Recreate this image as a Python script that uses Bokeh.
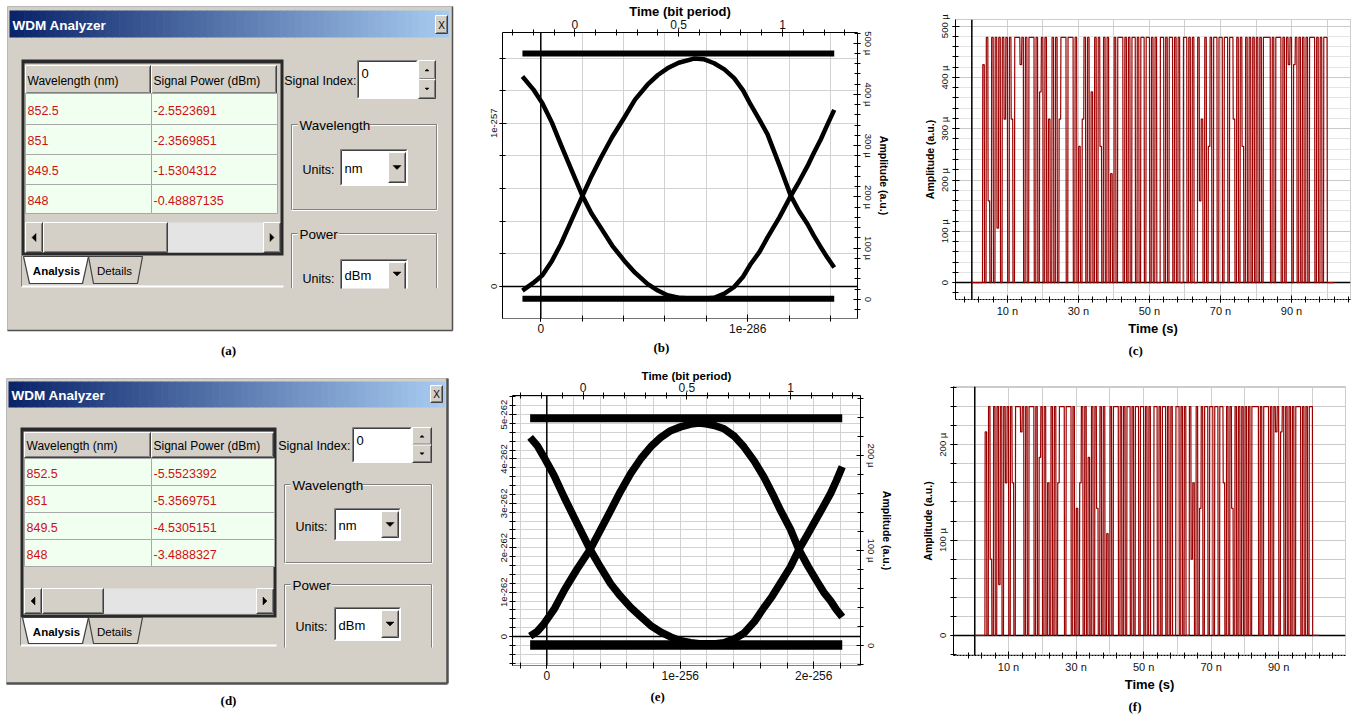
import math
from bokeh.plotting import figure
from bokeh.models import (Range1d, LinearAxis, FixedTicker, Grid, Span, Title,
                          CustomJSTickFormatter)
from bokeh.layouts import row, column
from bokeh.core.properties import value
from bokeh.embed import file_html
from bokeh.resources import INLINE

# ---------------------------------------------------------------- data
wavelengths_nm = [852.5, 851, 849.5, 848]
signal_power_a_dbm = [-2.5523691, -2.3569851, -1.5304312, -0.48887135]
signal_power_d_dbm = [-5.5523392, -5.3569751, -4.5305151, -3.4888327]
table_headers = ["Wavelength (nm)", "Signal Power (dBm)"]
signal_index = 0
wavelength_unit = "nm"
power_unit = "dBm"

# eye diagram (b): time in bit periods, amplitude in micro a.u.
eye_b_t = [-0.252, -0.2, -0.156, -0.11, -0.067, -0.015, 0.037, 0.08, 0.125, 0.18, 0.237,
           0.29, 0.35, 0.4, 0.446, 0.5, 0.574, 0.62, 0.671, 0.72, 0.767, 0.81, 0.847,
           0.89, 0.928, 0.985, 1.04, 1.08, 1.12, 1.15, 1.184, 1.215, 1.249]
eye_b_arch = [17, 32, 47, 75, 108, 155, 202, 240, 276, 317, 354,
              390, 419, 438, 451, 462, 470, 469, 461, 449, 432, 408, 380,
              350, 322, 262, 202, 172, 147, 125, 102, 82, 62]
eye_b_u = [435, 410, 383, 345, 302, 252, 202, 168, 140, 105, 76,
           52, 30, 17, 8, 3, 1, 1, 3, 11, 24, 44, 69,
           93, 121, 160, 202, 230, 260, 285, 312, 340, 370]
eye_b_rail_t = [-0.252, 1.249]
eye_b_high = 480
eye_b_low = 1

# eye diagram (e)
eye_e_t = [-0.255, -0.22, -0.188, -0.14, -0.091, -0.03, 0.034, 0.085, 0.133, 0.18, 0.23,
           0.28, 0.326, 0.375, 0.422, 0.47, 0.519, 0.56, 0.599, 0.64, 0.679, 0.73, 0.775,
           0.825, 0.872, 0.912, 0.952, 1.0, 1.04, 1.085, 1.129, 1.16, 1.193, 1.22, 1.249]
eye_e_arch = [10, 15, 23, 38, 58, 80, 101, 122, 142, 162, 181,
              197, 209, 219, 226, 230, 233, 234, 233, 231, 228, 220, 209,
              194, 177, 160, 142, 122, 101, 83, 67, 56, 47, 38, 30]
eye_e_u = [219, 210, 198, 179, 156, 129, 101, 82, 65, 52, 40,
           30, 21, 14, 9, 5, 3, 2, 2, 2, 3, 7, 13,
           25, 40, 52, 66, 83, 101, 118, 135, 147, 160, 173, 188]
eye_e_rail_t = [-0.255, 1.249]
eye_e_high = 239
eye_e_low = 0.5

# time traces (c) and (f): one level digit per bit (9 = full level)
bits_start_ns = 3.0
bit_period_ns = 0.5
bit_levels = ("80930909290969096099"
              "98909099909079090609"
              "09069990999090506909"
              "07090950909040909990"
              "90909909099099090900"
              "99090990909009909090"
              "09360905909909909909"
              "96090950909090909099"
              "99090999090989089090"
              "90909990909099")
trace_end_ns = 102.0
full_level_c = 478
full_level_f = 240
time_ticks_ns = [10, 30, 50, 70, 90]

# ---------------------------------------------------------------- styles
WIN = "#D4D0C8"
SHADOW = "#808080"
DARKER = "#404040"
ROWBG = "#F0FFF0"
VALRED = "#D01010"
TRACE_RED = "#990000"
GRID_C = "#D2D2D2"
SANS = "Liberation Sans"
SERIF = "Liberation Serif"


def base_fig(w, h, xr, yr, mb):
    p = figure(width=w, height=h, x_range=Range1d(*xr), y_range=Range1d(*yr),
               x_axis_location=None, y_axis_location=None, title=None,
               toolbar_location=None, output_backend="svg",
               min_border_left=mb[0], min_border_right=mb[1],
               min_border_top=mb[2], min_border_bottom=mb[3])
    p.frame_align = False
    p.background_fill_color = "white"
    p.border_fill_color = "white"
    p.xgrid.visible = False
    p.ygrid.visible = False
    return p


# ---------------------------------------------------------------- WDM windows
def quad(p, x0, y0, x1, y1, fill, line=None, lw=1):
    p.quad(left=[x0], right=[x1], top=[y0], bottom=[y1], fill_color=fill,
           line_color=line, line_width=lw)


def seg(p, pts, color, lw=1):
    p.segment(x0=[a[0] for a in pts], y0=[a[1] for a in pts],
              x1=[a[2] for a in pts], y1=[a[3] for a in pts],
              line_color=color, line_width=lw)


def raised(p, x0, y0, x1, y1, fill=WIN):
    quad(p, x0, y0, x1, y1, fill)
    seg(p, [(x0, y0, x1, y0), (x0, y0, x0, y1)], "white")
    seg(p, [(x0, y1, x1, y1), (x1, y0, x1, y1)], DARKER)
    seg(p, [(x0 + 1, y1 - 1, x1 - 1, y1 - 1), (x1 - 1, y0 + 1, x1 - 1, y1 - 1)], SHADOW)


def sunken(p, x0, y0, x1, y1, fill="white"):
    quad(p, x0, y0, x1, y1, fill)
    seg(p, [(x0, y0, x1, y0), (x0, y0, x0, y1)], SHADOW)
    seg(p, [(x0 + 1, y0 + 1, x1 - 1, y0 + 1), (x0 + 1, y0 + 1, x0 + 1, y1 - 1)], DARKER)
    seg(p, [(x0, y1, x1, y1), (x1, y0, x1, y1)], "white")


def txt(p, x, y, s, size, color="black", bold=False, align="left", font=SANS):
    p.text(x=[x], y=[y], text=[s], text_font=value(font), text_font_size=f"{size}px",
           text_color=color, text_font_style="bold" if bold else "normal",
           text_align=align, text_baseline="middle")


def tri(p, cx, cy, s, d):
    if d == "down":
        xs, ys = [cx - s, cx + s, cx], [cy - s / 2, cy - s / 2, cy + s / 2]
    elif d == "up":
        xs, ys = [cx - s, cx + s, cx], [cy + s / 2, cy + s / 2, cy - s / 2]
    elif d == "left":
        xs, ys = [cx + s / 2, cx + s / 2, cx - s / 2], [cy - s, cy + s, cy]
    else:
        xs, ys = [cx - s / 2, cx - s / 2, cx + s / 2], [cy - s, cy + s, cy]
    p.patch(xs, ys, fill_color="black", line_color="black", line_width=0.5)


def etched(p, x0, y0, x1, y1, open_bottom=False):
    dark = [(x0, y0, x1, y0), (x0, y0, x0, y1), (x1, y0, x1, y1)]
    light = [(x0 + 1, y0 + 1, x1 - 1, y0 + 1), (x0 + 1, y0 + 1, x0 + 1, y1), (x1 + 1, y0, x1 + 1, y1)]
    if not open_bottom:
        dark.append((x0, y1, x1, y1))
        light.append((x0, y1 + 1, x1 + 1, y1 + 1))
    seg(p, dark, SHADOW)
    seg(p, light, "white")


def mix(c1, c2, f):
    return "#%02x%02x%02x" % tuple(int(round(a + (b - a) * f)) for a, b in zip(c1, c2))


def make_wdm(G, powers, caption, h):
    p = base_fig(470, h, (0, 470), (h, 0), (0, 0, 0, 0))
    p.outline_line_color = None
    x0, y0, x1, y1 = G["win"]
    quad(p, x0, y0, x1, y1, WIN, "#B8B8B8")
    seg(p, [(x1, y0, x1, y1), (x0, y1, x1, y1)], "#505050", G["edge"])
    # title bar
    bx0, by0, bx1, by1 = G["bar"]
    n = 60
    lefts = [bx0 + (bx1 - bx0) * i / n for i in range(n)]
    rights = [bx0 + (bx1 - bx0) * (i + 1) / n + 0.6 for i in range(n)]
    cols = [mix((10, 36, 106), (166, 202, 240), i / (n - 1)) for i in range(n)]
    p.quad(left=lefts, right=rights, top=[by0] * n, bottom=[by1] * n,
           fill_color=cols, line_color=None)
    txt(p, bx0 + 3, (by0 + by1) / 2 + 1, "WDM Analyzer", 13.5, "white", True)
    cx0, cy0, cx1, cy1 = G["close"]
    raised(p, cx0, cy0, cx1, cy1)
    txt(p, (cx0 + cx1) / 2, (cy0 + cy1) / 2 + 0.5, "X", 10, "black", False, "center")
    # table
    tx0, ty0, tx1, ty1 = G["tbl"]
    quad(p, tx0, ty0, tx1, ty1, "#2A2A2A")
    quad(p, tx0 + 3, ty0 + 4, tx1 - 3, ty1 - 3, WIN)
    cx = G["colx"]
    hy0, hy1 = G["hdr"]
    for i in range(2):
        raised(p, cx[i], hy0, cx[i + 1] - 1, hy1)
        txt(p, cx[i] + 2, (hy0 + hy1) / 2 + 1, table_headers[i], 12)
    rows_y = G["rows"]
    nr = len(wavelengths_nm)
    p.quad(left=[cx[0]] * nr + [cx[1]] * nr, right=[cx[1]] * nr + [cx[2]] * nr,
           top=rows_y[:-1] * 2, bottom=rows_y[1:] * 2,
           fill_color=ROWBG, line_color="#A8A8A8")
    ymid = [(rows_y[i] + rows_y[i + 1]) / 2 + 1 for i in range(nr)]
    p.text(x=[cx[0] + 2] * nr, y=ymid, text=[f"{w:g}" for w in wavelengths_nm],
           text_font=value(SANS), text_font_size="12.5px", text_color=VALRED,
           text_baseline="middle")
    p.text(x=[cx[1] + 2] * nr, y=ymid, text=[repr(v) for v in powers],
           text_font=value(SANS), text_font_size="12.5px", text_color=VALRED,
           text_baseline="middle")
    # scrollbar
    sx0, sy0, sx1, sy1 = G["scroll"]
    quad(p, sx0, sy0, sx1, sy1, "#E4E4E4")
    raised(p, sx0, sy0, sx0 + 17, sy1)
    tri(p, sx0 + 8.5, (sy0 + sy1) / 2, 4, "left")
    raised(p, sx1 - 17, sy0, sx1, sy1)
    tri(p, sx1 - 8.5, (sy0 + sy1) / 2, 4, "right")
    th0, th1 = G["thumb"]
    raised(p, th0, sy0, th1, sy1)
    # tabs
    ay0, ay1 = G["tabs"]
    p.patch([tx0 + 2, tx0 + 8, 82, 88], [ay0, ay1, ay1, ay0], fill_color="white",
            line_color=DARKER, line_width=1.2)
    p.patch([88, 93, 137, 142], [ay0, ay1, ay1, ay0], fill_color=WIN,
            line_color=DARKER, line_width=1.2)
    txt(p, 56, (ay0 + ay1) / 2 + 1, "Analysis", 11.5, "black", True, "center")
    txt(p, 114, (ay0 + ay1) / 2 + 1, "Details", 11.5, "black", False, "center")
    gl = G["grp"]
    seg(p, [(tx0, gl, tx1, gl)], "white", 2)
    seg(p, [(tx0, ty1, tx0, gl)], SHADOW, 1)
    # signal index
    sgx, sgy = G["sig"]
    txt(p, sgx, sgy, "Signal Index:", 12.5, align="right")
    ix0, iy0, ix1, iy1 = G["inp"]
    sunken(p, ix0, iy0, ix1, iy1)
    txt(p, ix0 + 4, iy0 + 13, str(signal_index), 13)
    spx0, spy0, spx1, spy1 = G["spin"]
    mid = (spy0 + spy1) / 2
    raised(p, spx0, spy0, spx1, mid)
    raised(p, spx0, mid, spx1, spy1)
    tri(p, (spx0 + spx1) / 2, (spy0 + mid) / 2, 2, "up")
    tri(p, (spx0 + spx1) / 2, (mid + spy1) / 2, 2, "down")
    # group boxes
    for key, label, unit, lblw in (("wl", "Wavelength", wavelength_unit, 70),
                                    ("pw", "Power", power_unit, 39)):
        gx0, gy0, gx1, gy1 = G[key + "_box"]
        etched(p, gx0, gy0, gx1, gy1, G[key + "_open"])
        quad(p, gx0 + 6, gy0 - 9, gx0 + 8 + lblw, gy0 + 9, WIN)
        txt(p, gx0 + 8, gy0 + 1, label, 13.5)
        txt(p, gx0 + 11, G[key + "_uy"] + 1, "Units:", 12.5)
        dx0, dy0, dx1, dy1 = G[key + "_dd"]
        sunken(p, dx0, dy0, dx1, dy1)
        ym = (dy0 + min(dy1, G[key + "_clip"])) / 2
        txt(p, dx0 + 4, ym + 1, unit, 13)
        raised(p, dx1 - 19, dy0 + 3, dx1 - 2, dy1 - 3)
        tri(p, dx1 - 10.5, ym, 4, "down")
        if G[key + "_open"]:
            quad(p, gx0 - 2, G[key + "_clip"], gx1 + 3, G[key + "_clip"] + 30, WIN)
    txt(p, G["cap"][0], G["cap"][1], caption, 13, "black", True, "center", SERIF)
    return p


G_a = dict(win=(7, 6, 452, 330), edge=1.5, bar=(9, 10, 448, 37), close=(435, 15, 447, 33),
           tbl=(21, 59, 283, 255), hdr=(65, 93), colx=(25, 151, 277),
           rows=[93, 124, 154, 184, 213], scroll=(25, 222, 280, 252), thumb=(43, 167),
           tabs=(256, 283), grp=286, sig=(356, 80), inp=(357, 60, 417, 98),
           spin=(418, 60, 435, 98),
           wl_box=(291, 124, 436, 209), wl_open=False, wl_uy=168, wl_dd=(340, 149, 407, 185), wl_clip=999,
           pw_box=(291, 233, 436, 288), pw_open=True, pw_uy=277, pw_dd=(340, 259, 407, 296), pw_clip=288,
           cap=(228, 350))

G_d = dict(win=(6, 18, 447, 323), edge=2.5, bar=(8, 21, 444, 47), close=(430, 25, 442, 42),
           tbl=(20, 67, 276, 257), hdr=(72, 97), colx=(24, 151, 274),
           rows=[98, 125, 152, 179, 206], scroll=(24, 228, 273, 253), thumb=(42, 103),
           tabs=(257, 283), grp=285, sig=(350, 85), inp=(352, 67, 411, 102),
           spin=(412, 67, 431, 102),
           wl_box=(284, 124, 431, 202), wl_open=False, wl_uy=165, wl_dd=(334, 148, 400, 180), wl_clip=999,
           pw_box=(284, 224, 431, 287), pw_open=True, pw_uy=265, pw_dd=(334, 247, 400, 280), pw_clip=999,
           cap=(228, 340))


# ---------------------------------------------------------------- axes helpers
def label_formatter(vals, labels):
    return CustomJSTickFormatter(args=dict(vals=vals, labels=labels), code="""
for (let i = 0; i < vals.length; i++) {
  if (Math.abs(vals[i] - tick) < 1e-6) { return labels[i]; }
}
return "";
""")


def micro():
    return CustomJSTickFormatter(code=r"""
return (Math.abs(tick) < 1e-9) ? "0" : Math.round(tick) + " \u00b5";
""")


def nano():
    return CustomJSTickFormatter(code=r"""return Math.round(tick) + " n";""")


def style_axis(ax, lsize, tsize):
    ax.major_label_text_font = SANS
    ax.major_label_text_font_size = lsize
    ax.major_label_text_color = "#111111"
    ax.axis_label_text_font = SANS
    ax.axis_label_text_font_style = "bold"
    ax.axis_label_text_font_size = tsize
    ax.axis_label_text_color = "black"
    ax.axis_line_color = "black"
    ax.major_tick_line_color = "black"
    ax.minor_tick_line_color = "black"
    ax.major_tick_in = 4
    ax.major_tick_out = 3
    ax.minor_tick_in = 3
    ax.minor_tick_out = 3
    ax.major_label_standoff = 2
    ax.axis_label_standoff = 1


def steps(a, b, s):
    n = int(round((b - a) / s))
    return [round(a + i * s, 6) for i in range(n + 1)]


def caption_title(p, text, offset, standoff):
    p.add_layout(Title(text=text, align="left", offset=offset, standoff=standoff,
                       text_font=SERIF, text_font_style="bold", text_font_size="13px",
                       text_color="black"), "below")


def make_eye(c):
    p = base_fig(c["w"], c["h"], c["xr"], c["yr"], c["mb"])
    p.extra_x_ranges = {"bot": Range1d(*c["bot_r"])}
    p.extra_y_ranges = {"lft": Range1d(*c["left_r"])}
    p.outline_line_color = None
    p.add_layout(Grid(dimension=0, x_range_name="bot", ticker=FixedTicker(ticks=c["bot_grid"]),
                      grid_line_color=GRID_C))
    p.add_layout(Grid(dimension=1, y_range_name="lft", ticker=FixedTicker(ticks=c["left_grid"]),
                      grid_line_color=GRID_C))
    p.add_layout(Span(location=0, dimension="height", x_range_name="bot", line_color="black",
                      line_width=1.5, level="underlay"))
    p.add_layout(Span(location=0, dimension="width", y_range_name="lft", line_color="black",
                      line_width=1.5, level="underlay"))

    top = LinearAxis(ticker=FixedTicker(ticks=[0, 0.5, 1], minor_ticks=steps(-0.3, 1.3, 0.1)),
                     axis_label="Time (bit period)")
    style_axis(top, c["hl"], c["ht"])
    top.major_label_standoff = 1
    top.axis_label_standoff = -2
    p.add_layout(top, "above")

    right = LinearAxis(ticker=FixedTicker(ticks=c["right_ticks"], minor_ticks=c["right_minor"]),
                       formatter=micro(), axis_label="Amplitude (a.u.)")
    style_axis(right, c["vl"], c["vt"])
    right.major_label_orientation = "vertical"
    right.axis_label_orientation = "vertical"
    p.add_layout(right, "right")

    left = LinearAxis(y_range_name="lft",
                      ticker=FixedTicker(ticks=c["left_vals"], minor_ticks=c["left_grid"]),
                      formatter=label_formatter(c["left_vals"], c["left_labels"]))
    style_axis(left, c["vl"], c["vt"])
    left.major_label_orientation = "vertical"
    p.add_layout(left, "left")

    bot = LinearAxis(x_range_name="bot",
                     ticker=FixedTicker(ticks=c["bot_vals"], minor_ticks=c["bot_grid"]),
                     formatter=label_formatter(c["bot_vals"], c["bot_labels"]))
    style_axis(bot, c["hl"], c["ht"])
    bot.axis_line_dash = "1 1"
    p.add_layout(bot, "below")

    p.line(c["t"], c["arch"], line_color="black", line_width=c["lw"], line_join="round")
    p.line(c["t"], c["u"], line_color="black", line_width=c["lw"], line_join="round")
    p.line(c["rail_t"], [c["high"]] * 2, line_color="black", line_width=c["rw"][0])
    p.line(c["rail_t"], [c["low"]] * 2, line_color="black", line_width=c["rw"][1])
    caption_title(p, c["caption"], c["cap"][0], c["cap"][1])
    return p


def waveform(full):
    t = [0.0, bits_start_ns]
    a = [0.0, 0.0]
    for i, ch in enumerate(bit_levels):
        t0 = bits_start_ns + i * bit_period_ns
        lv = int(ch) / 9 * full
        t += [t0 + 0.08, t0 + bit_period_ns]
        a += [lv, lv]
    tend = bits_start_ns + len(bit_levels) * bit_period_ns
    t += [tend + 0.08, trace_end_ns]
    a += [0.0, 0.0]
    return t, a


def make_trace(c):
    p = base_fig(c["w"], c["h"], c["xr"], c["yr"], c["mb"])
    p.outline_line_color = "#9A9A9A"
    p.outline_line_dash = "1 1"
    p.add_layout(Grid(dimension=0, ticker=FixedTicker(ticks=steps(0, 100, 10)),
                      grid_line_color="#CFCFCF"))
    p.add_layout(Grid(dimension=1, ticker=FixedTicker(ticks=c["ygrid"], minor_ticks=c["yminor"]),
                      grid_line_color="#CACACA", minor_grid_line_color="#E4E4E4"))
    p.add_layout(Span(location=0, dimension="height", line_color="black", line_width=1.5,
                      level="underlay"))
    p.add_layout(Span(location=0, dimension="width", line_color="black", line_width=1.5,
                      level="underlay"))
    xa = LinearAxis(ticker=FixedTicker(ticks=time_ticks_ns, minor_ticks=steps(-2, 106, 4)),
                    formatter=nano(), axis_label="Time (s)")
    style_axis(xa, "11px", "13px")
    xa.axis_line_dash = "2 1"
    p.add_layout(xa, "below")
    ya = LinearAxis(ticker=FixedTicker(ticks=c["yticks"], minor_ticks=c["yminor"]),
                    formatter=micro(), axis_label="Amplitude (a.u.)")
    style_axis(ya, "9.5px", "10.5px")
    ya.major_label_orientation = "vertical"
    p.add_layout(ya, "left")
    t, a = waveform(c["full"])
    p.line(t, a, line_color=TRACE_RED, line_width=1.2)
    caption_title(p, c["caption"], c["cap"][0], c["cap"][1])
    return p


# ---------------------------------------------------------------- panels
pa = make_wdm(G_a, signal_power_a_dbm, "(a)", 360)
pd = make_wdm(G_d, signal_power_d_dbm, "(d)", 357)

pb = make_eye(dict(
    w=430, h=360, xr=(-0.348, 1.361), yr=(-37.5, 521), mb=(32, 43, 31, 42),
    bot_r=(-0.185, 1.53), left_r=(-0.197, 1.557),
    bot_vals=[0, 1], bot_labels=["0", "1e-286"], bot_grid=steps(-0.2, 1.6, 0.2),
    left_vals=[0, 1], left_labels=["0", "1e-257"], left_grid=steps(-0.2, 1.6, 0.2),
    right_ticks=steps(0, 500, 100), right_minor=steps(-40, 520, 20),
    hl="12px", ht="13px", vl="9.5px", vt="10.5px",
    t=eye_b_t, arch=eye_b_arch, u=eye_b_u, rail_t=eye_b_rail_t,
    high=eye_b_high, low=eye_b_low, lw=4.5, rw=(6, 6),
    caption="(b)", cap=(151, 5)))

pe = make_eye(dict(
    w=430, h=357, xr=(-0.34, 1.337), yr=(-21, 263), mb=(42, 40, 35, 52),
    bot_r=(-0.257, 2.35), left_r=(-0.653, 5.43),
    bot_vals=[0, 1, 2], bot_labels=["0", "1e-256", "2e-256"], bot_grid=steps(-0.2, 2.4, 0.2),
    left_vals=[0, 1, 2, 3, 4, 5], left_labels=["0", "1e-262", "2e-262", "3e-262", "4e-262", "5e-262"],
    left_grid=steps(-0.6, 5.4, 0.2),
    right_ticks=[0, 100, 200], right_minor=steps(-20, 260, 20),
    hl="12px", ht="11.5px", vl="9.5px", vt="10.5px",
    t=eye_e_t, arch=eye_e_arch, u=eye_e_u, rail_t=eye_e_rail_t,
    high=eye_e_high, low=eye_e_low, lw=7.5, rw=(8, 9.5),
    caption="(e)", cap=(138, 8)))

pc = make_trace(dict(
    w=457, h=360, xr=(-4.6, 106.6), yr=(-33, 513), mb=(55, 7, 19, 57),
    yticks=steps(0, 500, 100), ygrid=steps(0, 500, 100), yminor=steps(-20, 500, 20),
    full=full_level_c, caption="(c)", cap=(173, 5)))

pf = make_trace(dict(
    w=457, h=357, xr=(-6.3, 109.8), yr=(-21, 261), mb=(53, 12, 26, 62),
    yticks=[0, 100, 200], ygrid=steps(-20, 260, 20), yminor=steps(-20, 260, 20),
    full=full_level_f, caption="(f)", cap=(175, 4)))

layout = column(row(pa, pb, pc), row(pd, pe, pf))

with open("out.html", "w", encoding="utf-8") as fh:
    fh.write(file_html(layout, INLINE))
